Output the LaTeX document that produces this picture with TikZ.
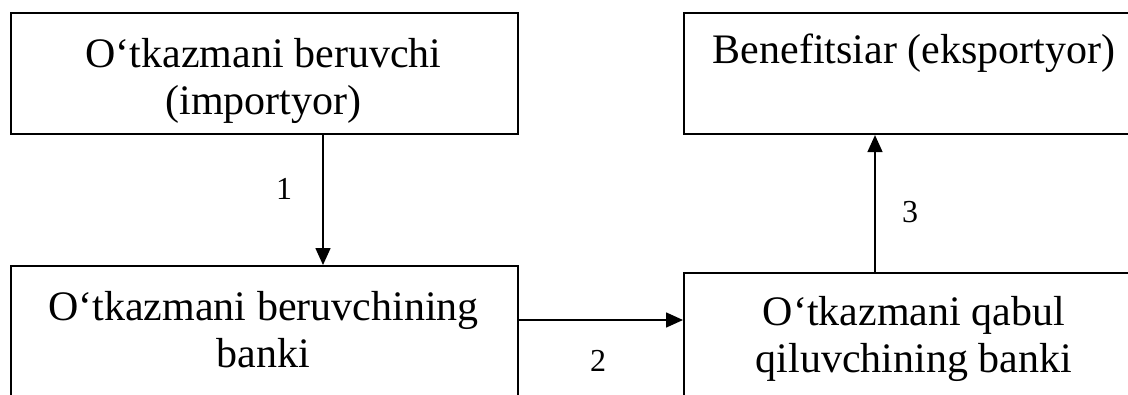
\documentclass[tikz,border=0pt]{standalone}
\usepackage{fontspec}
\setmainfont{Liberation Serif}
\usetikzlibrary{arrows.meta}
\begin{document}
\begin{tikzpicture}[x=1pt,y=-1pt,
  box/.style={draw, line width=2.1pt, inner sep=0pt, anchor=north west},
  txt/.style={font=\fontsize{42}{47}\selectfont, align=center, inner sep=0pt},
  lbl/.style={font=\fontsize{32}{36}\selectfont, inner sep=0pt},
  arr/.style={line width=1.6pt, -{Triangle[length=17pt,width=15pt]}}]
\useasboundingbox (0,0) rectangle (1128,394);
% boxes
\node[box, minimum width=507pt, minimum height=121pt] (A) at (10,12) {};
\node[box, minimum width=470pt, minimum height=121pt] (B) at (683,12) {};
\node[box, minimum width=507pt, minimum height=200pt] (C) at (10,265) {};
\node[box, minimum width=470pt, minimum height=200pt] (D) at (683,272) {};
% texts
\node[txt] (At) at (263.5,81) {O‘tkazmani beruvchi\\(importyor)};
\node[txt] (Bt) at (914,53) {Benefitsiar (eksportyor)};
\node[txt] (Ct) at (263.5,330) {O‘tkazmani beruvchining\\banki};
\node[txt] (Dt) at (914,339) {O‘tkazmani qabul\\qiluvchining banki};
% connector guides
\coordinate (x1) at (323,0);
\coordinate (y2) at (0,320);
\coordinate (x3) at (875,0);
% connectors
\draw[arr] (A.south -| x1) -- (C.north -| x1);
\draw[arr] (C.east |- y2) -- (D.west |- y2);
\draw[arr] (D.north -| x3) -- (B.south -| x3);
% labels
\node[lbl] (l1) at (284,189) {1};
\node[lbl] (l2) at (598,361) {2};
\node[lbl] (l3) at (910,212) {3};
\end{tikzpicture}
\end{document}
